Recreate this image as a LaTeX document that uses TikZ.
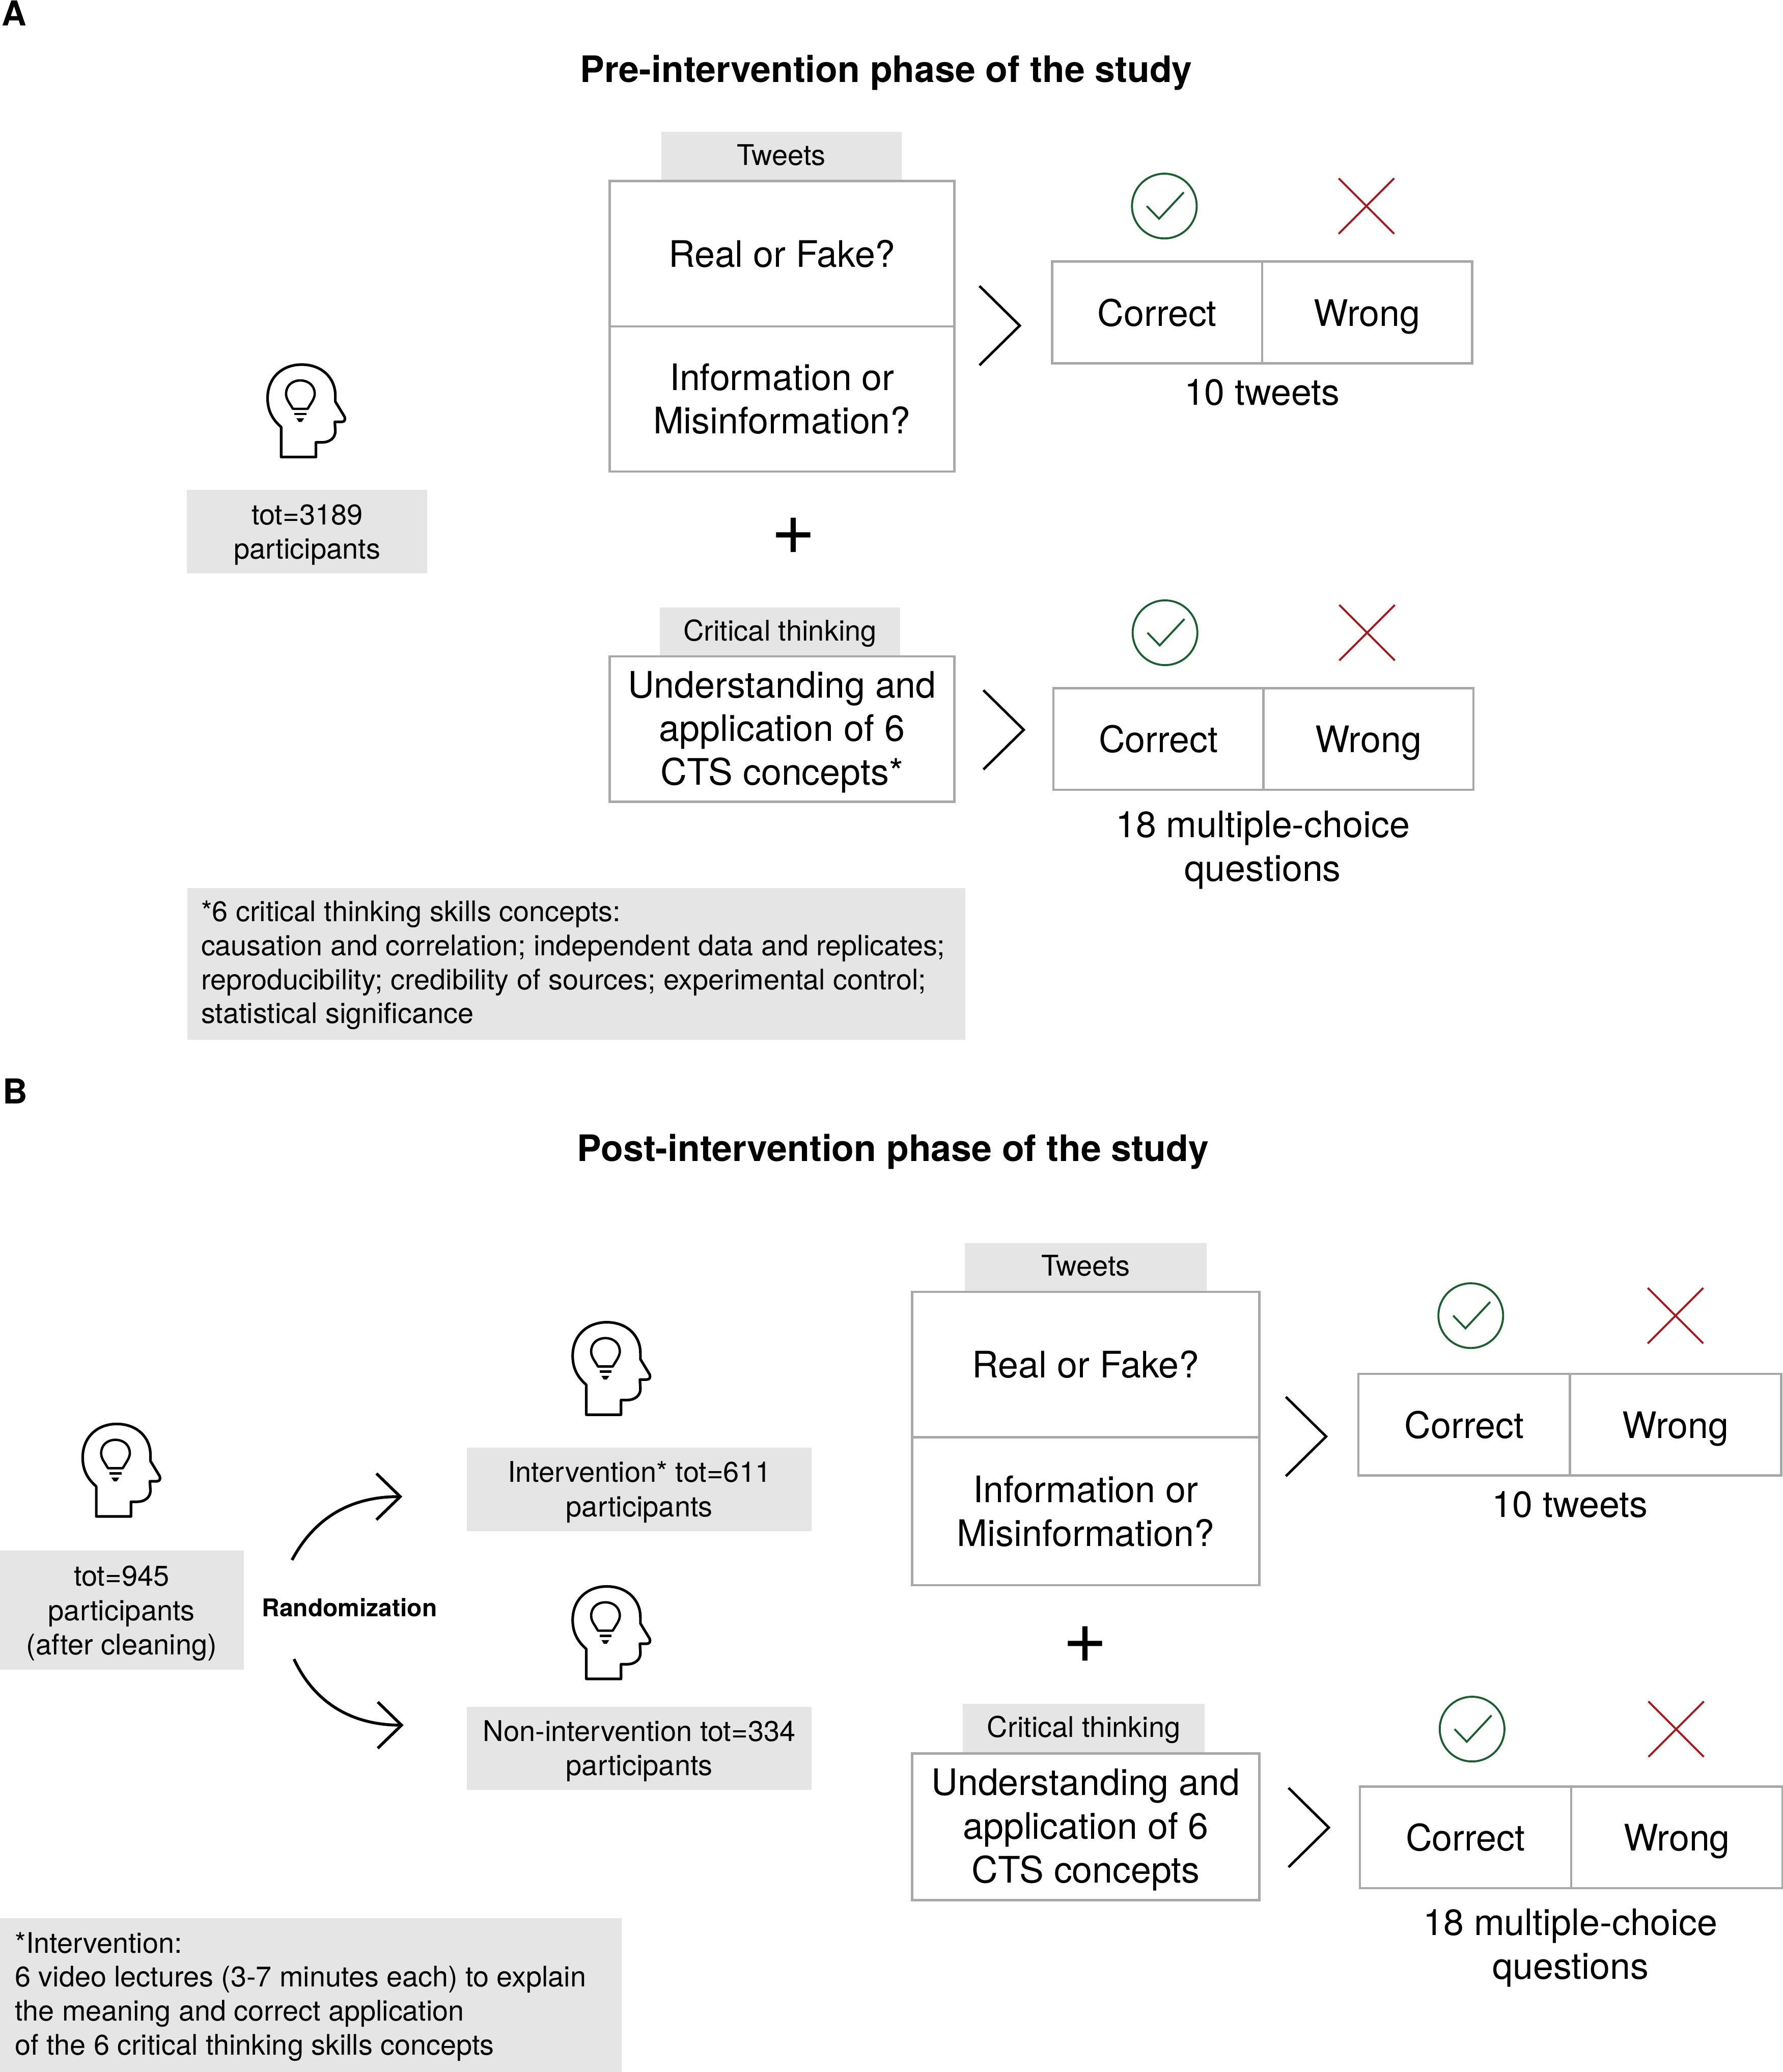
\documentclass[tikz,border=0pt]{standalone}
\usepackage{fontspec}
\setmainfont{TeX Gyre Heros}
\usetikzlibrary{arrows.meta}
\definecolor{boxgray}{HTML}{E6E5E6}
\definecolor{linegray}{HTML}{A8A8A8}
\definecolor{okgreen}{HTML}{1B5E2F}
\definecolor{badred}{HTML}{A5191F}
\newcommand{\lowsmall}{\rule{0pt}{20pt}}
\newcommand{\lowbig}{\rule{0pt}{24.4pt}}
\tikzset{
  big/.style={font=\fontsize{27.65}{33}\selectfont, align=center},
  small/.style={font=\fontsize{21.6}{26}\selectfont, align=center},
  title/.style={font=\fontsize{27.6}{32}\selectfont\bfseries},
  letter/.style={font=\fontsize{26}{32}\selectfont\bfseries},
  tag/.style={small, fill=boxgray, inner sep=0pt, minimum width=#1},
  onetag/.style={tag=#1, minimum height=37pt, text height=17.5pt, text depth=4.5pt},
  framed/.style={big, draw=linegray, line width=1.7pt, inner sep=0pt, minimum width=#1},
  answer/.style={framed=#1, minimum height=77pt, text height=20.5pt, text depth=0pt},
  notetext/.style={font=\fontsize{21.5}{25.7}\selectfont, align=left, anchor=west, inner sep=0pt},
  plus/.style={font=\fontsize{58}{60}\selectfont},
  head/.pic={
    \draw[line width=2pt, line join=round] (10.3,70)--(10.3,47.3) .. controls (3,41) and (0,34) .. (0,25.4)
      .. controls (0,10) and (11,0) .. (25.8,0) .. controls (41,0) and (51.3,10) .. (51.3,23.5)--(51.3,28)
      --(58.3,39.5) .. controls (59,41.5) and (58.5,43.4) .. (56,43.4)--(50.9,43.4)--(51.3,50.5)
      .. controls (51.3,55.5) and (47,58.9) .. (41.3,58.9)--(36.6,58.9)--(36.6,70)--cycle;
    \draw[line width=1.8pt, line join=round] (19.2,33.5)--(15.5,27.5) .. controls (14.5,25.5) and (14,24) .. (14,22.2)
      .. controls (14,16) and (18.5,12) .. (24.8,12) .. controls (31,12) and (35.7,16) .. (35.7,22.2)
      .. controls (35.7,24) and (35,25.5) .. (34,27.5)--(30.3,33.5)--cycle;
    \draw[line width=1.8pt] (20.4,37.4)--(29.5,37.4);
    \fill (21.8,40.6)--(27.7,40.6)--(25.8,43.4)--(23.6,43.4)--cycle;
  },
  tick/.pic={
    \draw[okgreen, line width=1.5pt] (0,0) circle [radius=24.5];
    \draw[okgreen, line width=1.5pt] (-13.3,0)--(-4,9.6)--(14.7,-10.4);
  },
  cross/.pic={
    \draw[badred, line width=1.5pt] (-21,-21)--(21,21);
    \draw[badred, line width=1.5pt] (-21,21)--(21,-21);
  },
  chevron/.pic={
    \draw[line width=1.9pt] (0,-30)--(30.5,0)--(0,30);
  },
  splitarrow/.style={line width=2.2pt, -{Straight Barb[length=18pt, width=35pt, line width=2.2pt]}},
}

\begin{document}
\begin{tikzpicture}[x=1pt, y=-1pt]
\useasboundingbox (-0.6,0) rectangle (1349.4,1568.6);

% panel A
\node[letter] (letterA) at (10,10) {A};
\node[title] (titleA) at (670.5,55) {Pre-intervention phase of the study};

\pic at (202,276) {head};
\node[tag=182pt, minimum height=63pt] (totA) at (232,402.5) {\lowsmall tot=3189\\participants};

\node[onetag=182pt] (tweetsA) at (591,118.5) {Tweets};
\node[framed=261pt, minimum height=110pt] (realA) at (591.5,192) {Real or Fake?};
\node[framed=261pt, minimum height=110pt] (infoA) at (591.5,302) {Information or\\Misinformation?};
\pic at (741,246.5) {chevron};
\pic at (881,156) {tick};
\pic at (1034,156) {cross};
\node[answer=159pt] (correctA) at (875.5,236.5) {Correct};
\node[answer=159pt] (wrongA) at (1034.5,236.5) {Wrong};
\node[big] (tenA) at (955,297) {10 tweets};

\node[plus] (plusA) at (600,406) {+};

\node[onetag=182pt] (criticalA) at (590,478.5) {Critical thinking};
\node[framed=261pt, minimum height=110pt] (ctsA) at (591.5,552) {\lowbig Understanding and\\application of 6\\CTS concepts*};
\pic at (744,552.5) {chevron};
\pic at (881.5,479) {tick};
\pic at (1034.5,479) {cross};
\node[answer=159pt] (correctAb) at (876.5,559.5) {Correct};
\node[answer=159pt] (wrongAb) at (1035.5,559.5) {Wrong};
\node[big] (eighteenA) at (955.5,643.5) {18 multiple-choice\\questions};

\node[tag=589pt, minimum height=115pt, anchor=north west] (noteA) at (141,672) {};
\node[notetext] (notetextA) at ([xshift=10.5pt, yshift=-1pt]noteA.west)
{*6 critical thinking skills concepts:\\causation and correlation; independent data and replicates;\\reproducibility; credibility of sources; experimental control;\\statistical significance};

% panel B
\node[letter] (letterB) at (11,826) {B};
\node[title] (titleB) at (675.5,872) {Post-intervention phase of the study};

\pic at (62,1078) {head};
\node[tag=185pt, minimum height=90pt] (totB) at (91.5,1219) {\lowsmall tot=945\\participants\\(after cleaning)};

\node[font=\fontsize{18.5}{24}\selectfont\bfseries] (randomB) at (264,1217) {Randomization};
\coordinate (upstart) at (220.5,1181);
\coordinate (uptip) at (304,1133);
\coordinate (downstart) at (222,1256);
\coordinate (downtip) at (305,1306);
\draw[splitarrow] (upstart) to[out=62, in=180] (uptip);
\draw[splitarrow] (downstart) to[out=-65, in=180] (downtip);

\pic at (433,1001) {head};
\node[tag=261pt, minimum height=63pt] (interB) at (483.5,1127.5) {\lowsmall Intervention* tot=611\\participants};
\pic at (433,1201) {head};
\node[tag=261pt, minimum height=63pt] (noninterB) at (483.5,1323.5) {\lowsmall Non-intervention tot=334\\participants};

\node[onetag=183pt] (tweetsB) at (821.5,959.5) {Tweets};
\node[framed=263pt, minimum height=110pt] (realB) at (821.5,1033) {Real or Fake?};
\node[framed=263pt, minimum height=112pt] (infoB) at (821.5,1144) {Information or\\Misinformation?};
\pic at (973,1087.5) {chevron};
\pic at (1113,996) {tick};
\pic at (1268,996) {cross};
\node[answer=160pt] (correctB) at (1108,1078.5) {Correct};
\node[answer=160pt] (wrongB) at (1268,1078.5) {Wrong};
\node[big] (tenB) at (1188,1139) {10 tweets};

\node[plus] (plusB) at (821,1245) {+};

\node[onetag=183pt] (criticalB) at (820,1308.5) {Critical thinking};
\node[framed=263pt, minimum height=111pt] (ctsB) at (821.5,1383) {\lowbig Understanding and\\application of 6\\CTS concepts};
\pic at (975,1383.5) {chevron};
\pic at (1114,1309) {tick};
\pic at (1268.5,1309) {cross};
\node[answer=160pt] (correctBb) at (1109,1391) {Correct};
\node[answer=160pt] (wrongBb) at (1269,1391) {Wrong};
\node[big] (eighteenB) at (1188.5,1474.5) {18 multiple-choice\\questions};

\node[tag=471pt, minimum height=116.6pt, anchor=north west] (noteB) at (-1,1452) {};
\node[notetext] (notetextB) at ([xshift=11.5pt, yshift=-1pt]noteB.west)
{*Intervention:\\6 video lectures (3-7 minutes each) to explain\\the meaning and correct application\\of the 6 critical thinking skills concepts};

\end{tikzpicture}
\end{document}
